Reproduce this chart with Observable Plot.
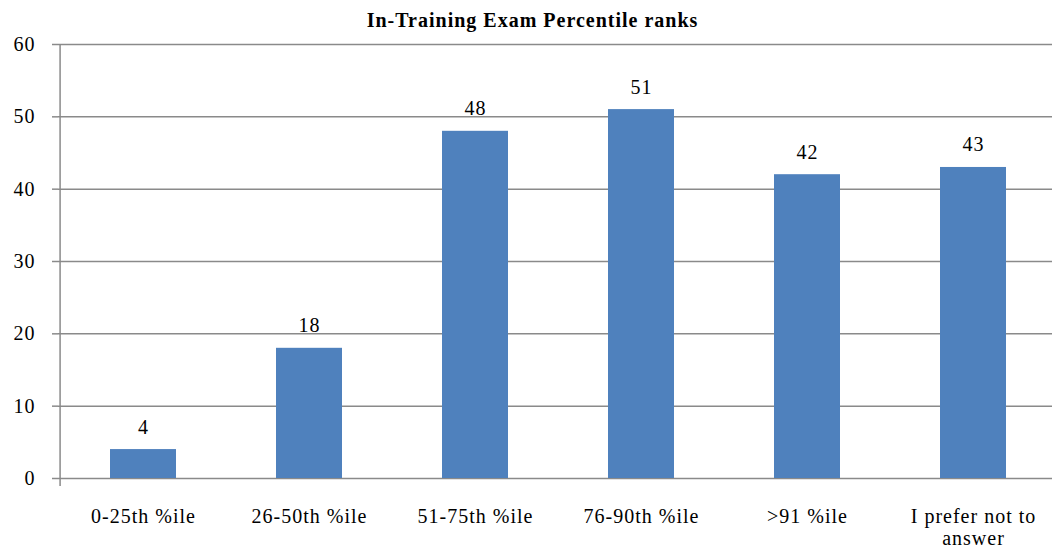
<!DOCTYPE html>
<html><head><meta charset="utf-8">
<script src="https://cdn.jsdelivr.net/npm/d3@7"></script>
<script src="https://cdn.jsdelivr.net/npm/@observablehq/plot@0.6"></script>
<style>
body{margin:0;background:#fff}
svg, svg text{font-family:"Liberation Serif","Times New Roman",serif}
svg text{letter-spacing:1px}
</style>
</head><body><div id="chart"></div>
<script>
const title = "In-Training Exam Percentile ranks";
const categories = ["0-25th %ile","26-50th %ile","51-75th %ile","76-90th %ile",">91 %ile","I prefer not to answer"];
const counts = [4,18,48,51,42,43];
const yTicks = [0,10,20,30,40,50,60];

const data = categories.map((c,i)=>({category:c, count:counts[i]}));
const xRange = [58,1059];
const step = (xRange[1]-xRange[0])/categories.length;
const gray = "#8a8a8a";
const serif = "Liberation Serif";

const chart = Plot.plot({
  width:1052, height:547,
  marginLeft:58, marginRight:0, marginTop:44, marginBottom:61,
  style:{fontFamily:serif, fontSize:"20px", background:"#fff", color:"#000", overflow:"visible"},
  x:{domain:categories, range:xRange, paddingInner:0.6, paddingOuter:0.3, axis:null},
  y:{domain:[0,60], insetBottom:8, axis:null},
  marks:[
    Plot.ruleY(yTicks, {stroke:gray, strokeWidth:1.5}),
    Plot.ruleX([categories[0]], {x:d=>d, dx:-step/2, stroke:gray, strokeWidth:1.5}),
    Plot.ruleX(categories.slice(1), {x:d=>d, dx:-step/2, y1:0, stroke:gray, strokeWidth:1.5}),
    Plot.axisY(yTicks, {tickSize:6, tickPadding:17, fontSize:20, fontFamily:serif, stroke:gray, fill:"#000", label:null, strokeWidth:1.5}),
    Plot.barY(data, {x:"category", y:"count", fill:"#4F81BD"}),
    Plot.text(data, {x:"category", y:"count", text:d=>String(d.count), dy:-16, lineAnchor:"bottom", fontSize:20, fontFamily:serif, fill:"#000"}),
    Plot.axisX({tickSize:0, tickPadding:21, fontSize:20, fontFamily:serif, lineWidth:7, lineHeight:1.1, fill:"#000", label:null}),
    Plot.text([title], {frameAnchor:"top", dx:-23, dy:-18, lineAnchor:"bottom", fontWeight:"bold", fontSize:20, fontFamily:serif, fill:"#000"})
  ]
});
document.getElementById("chart").appendChild(chart);
</script>
</body></html>
